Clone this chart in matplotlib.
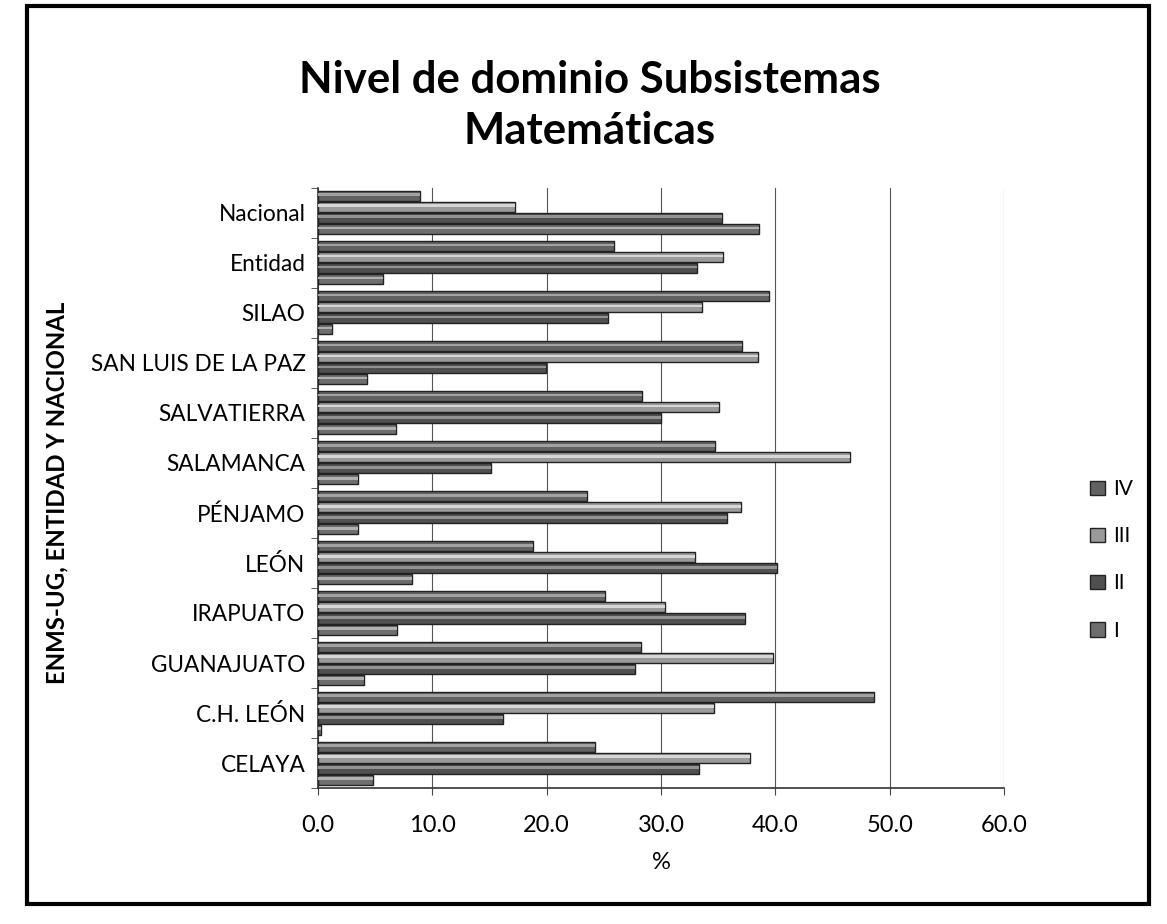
import matplotlib
matplotlib.use("Agg")
import matplotlib.pyplot as plt
import numpy as np
from matplotlib.patches import Rectangle

plt.rcParams['font.family'] = ['Lato', 'DejaVu Sans']

categories = ["CELAYA", "C.H. LEÓN", "GUANAJUATO", "IRAPUATO", "LEÓN", "PÉNJAMO",
              "SALAMANCA", "SALVATIERRA", "SAN LUIS DE LA PAZ", "SILAO", "Entidad", "Nacional"]
nivel_I   = [4.8, 0.3, 4.0, 6.9, 8.2, 3.5, 3.5, 6.8, 4.3, 1.2, 5.7, 38.6]
nivel_II  = [33.3, 16.2, 27.7, 37.3, 40.1, 35.8, 15.1, 30.0, 19.9, 25.4, 33.1, 35.3]
nivel_III = [37.8, 34.6, 39.8, 30.3, 33.0, 37.0, 46.5, 35.1, 38.5, 33.6, 35.4, 17.2]
nivel_IV  = [24.2, 48.6, 28.2, 25.1, 18.8, 23.5, 34.7, 28.3, 37.1, 39.4, 25.9, 8.9]
series_names = ["I", "II", "III", "IV"]
xticks = [0, 10, 20, 30, 40, 50, 60]

fig = plt.figure(figsize=(11.67, 9.24), dpi=100)
ax = fig.add_axes([0.2725, 0.147, 0.588, 0.650])

series = [nivel_I, nivel_II, nivel_III, nivel_IV]
face = ["#6e6e6e", "#505050", "#9a9a9a", "#626262"]
hi = ["#b0b0b0", "#939393", "#d6d6d6", "#a2a2a2"]
y = np.arange(len(categories))
pitch = 0.22
h = 0.2
handles = []
for i, (vals, fc, hc, name) in enumerate(zip(series, face, hi, series_names)):
    off = (i - 1.5) * pitch
    b = ax.barh(y + off, vals, height=h, color=fc, edgecolor="#222222",
                linewidth=1.0, zorder=3, label=name)
    ax.barh(y + off + h * 0.12, vals, height=h * 0.28, color=hc,
            edgecolor="none", linewidth=0, zorder=4)
    handles.append(b)

ax.set_xlim(0, 60)
ax.set_ylim(-0.5, len(categories) - 0.5)
ax.set_xticks(xticks)
ax.set_xticklabels([f"{t:.1f}" for t in xticks], fontsize=17)
ax.set_yticks(y)
ax.set_yticklabels(categories, fontsize=16.3)
ax.set_yticks(np.arange(-0.5, len(categories)), minor=True)
ax.tick_params(axis='y', which='major', length=0, pad=9)
ax.tick_params(axis='y', which='minor', length=5, color="#444444")
ax.tick_params(axis='x', which='major', length=5, color="#444444", pad=14)
ax.xaxis.grid(True, color="#555555", linewidth=0.8, zorder=0)
for s in ["top", "right"]:
    ax.spines[s].set_visible(False)
for s in ["left", "bottom"]:
    ax.spines[s].set_color("#333333")
    ax.spines[s].set_linewidth(1.2)

ax.set_xlabel("%", fontsize=17, labelpad=12)
fig.text(0.049, 0.467, "ENMS-UG, ENTIDAD Y NACIONAL", rotation=90, fontsize=17.3,
         fontweight="bold", ha="center", va="center")

fig.text(0.505, 0.886, "Nivel de dominio Subsistemas\nMatemáticas", fontsize=31.5,
         fontweight="bold", ha="center", va="center", linespacing=1.35)

leg_handles = handles[::-1]
leg = fig.legend(leg_handles, [hh.get_label() for hh in leg_handles],
                 loc="center left", bbox_to_anchor=(0.918, 0.394), frameon=False,
                 fontsize=15, handlelength=0.7, handleheight=0.7,
                 labelspacing=1.3, handletextpad=0.4)

fig.patches.append(Rectangle((0.023, 0.022), 0.962, 0.972, transform=fig.transFigure,
                             fill=False, edgecolor="black", linewidth=3))

fig.savefig("out.png", dpi=100, facecolor="white")
